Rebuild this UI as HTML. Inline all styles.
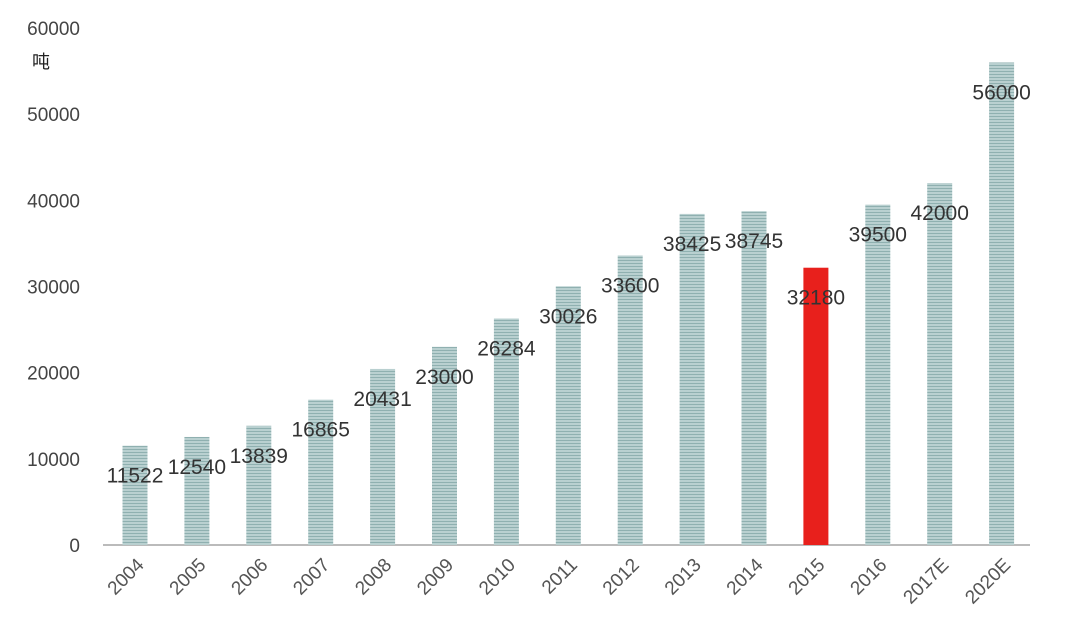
<!DOCTYPE html>
<html><head><meta charset="utf-8"><style>
body{margin:0;background:#fff;}
svg text{font-family:"Liberation Sans","Noto Sans CJK SC",sans-serif;}
</style></head><body>
<svg id="chart" width="1068" height="635" viewBox="0 0 1068 635">
<defs>
<pattern id="stripe" width="4" height="3" patternUnits="userSpaceOnUse">
<rect width="4" height="3" fill="#b9d0d0"/><rect y="2" width="4" height="1" fill="#8fb0b0"/>
</pattern>
</defs>
<g id="yaxis"></g>
<text x="32" y="68" font-size="18" fill="#222">吨</text>
<line x1="103" y1="545" x2="1030" y2="545" stroke="#bbb" stroke-width="2"/>
<g id="bars"></g>
<g id="xlabels"></g>
</svg>
<script>
const categories=["2004","2005","2006","2007","2008","2009","2010","2011","2012","2013","2014","2015","2016","2017E","2020E"];
const values=[11522,12540,13839,16865,20431,23000,26284,30026,33600,38425,38745,32180,39500,42000,56000];
const yTicks=[0,10000,20000,30000,40000,50000,60000];
const highlight="2015";
const NS="http://www.w3.org/2000/svg";
const y=v=>545-v*(517/60000);
const x=i=>135+i*61.9;
function mk(tag,attrs,txt){const e=document.createElementNS(NS,tag);for(const k in attrs)e.setAttribute(k,attrs[k]);if(txt!=null)e.textContent=txt;return e;}
const ya=document.getElementById('yaxis');
yTicks.forEach(t=>{
  const e=mk('text',{x:80,y:y(t)+7,'text-anchor':'end','font-size':19,fill:'#444'},t);
  
  
  ya.appendChild(e);
});
const bg=document.getElementById('bars'),xl=document.getElementById('xlabels');
categories.forEach((c,i)=>{
  const v=values[i];
  const r=mk('rect',{x:x(i)-12.5,y:y(v),width:25,height:545-y(v),fill:c===highlight?'#e8201c':'url(#stripe)'});
  
  
  bg.appendChild(r);
  const l=mk('text',{x:x(i),y:y(v)+37,'text-anchor':'middle','font-size':21,fill:'#333'},v);
  
  
  bg.appendChild(l);
  const cx=x(i)+10,cy=566;
  const t=mk('text',{x:cx,y:cy,'text-anchor':'end','font-size':19,fill:'#555',transform:`rotate(-45 ${cx} ${cy})`},c);
  
  
  xl.appendChild(t);
});
</script>
</body></html>
